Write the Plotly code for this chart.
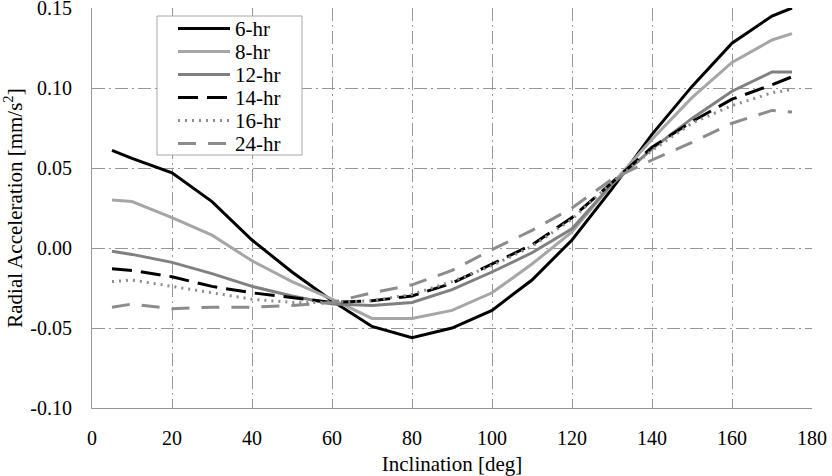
import plotly.graph_objects as go

inclination = [5, 10, 20, 30, 40, 50, 60, 70, 80, 90, 100, 110, 120, 130, 140, 150, 160, 170, 175]

acc_6hr = [0.061, 0.056, 0.047, 0.029, 0.005, -0.015, -0.033, -0.049, -0.056, -0.050, -0.039, -0.020, 0.005, 0.037, 0.071, 0.101, 0.128, 0.145, 0.150]
acc_8hr = [0.030, 0.029, 0.019, 0.008, -0.008, -0.021, -0.032, -0.044, -0.044, -0.039, -0.028, -0.010, 0.010, 0.040, 0.068, 0.094, 0.116, 0.130, 0.134]
acc_12hr = [-0.002, -0.004, -0.009, -0.016, -0.024, -0.030, -0.035, -0.036, -0.034, -0.026, -0.015, -0.003, 0.012, 0.040, 0.062, 0.081, 0.098, 0.110, 0.110]
acc_14hr = [-0.013, -0.014, -0.018, -0.024, -0.028, -0.031, -0.034, -0.033, -0.030, -0.022, -0.010, 0.002, 0.019, 0.041, 0.063, 0.079, 0.093, 0.102, 0.107]
acc_16hr = [-0.021, -0.020, -0.024, -0.028, -0.032, -0.034, -0.034, -0.033, -0.029, -0.021, -0.011, 0.001, 0.018, 0.041, 0.061, 0.078, 0.089, 0.097, 0.099]
acc_24hr = [-0.037, -0.035, -0.038, -0.037, -0.037, -0.036, -0.034, -0.028, -0.023, -0.014, -0.001, 0.011, 0.025, 0.043, 0.055, 0.066, 0.078, 0.086, 0.085]

series_names = ["6-hr", "8-hr", "12-hr", "14-hr", "16-hr", "24-hr"]
series_values = [acc_6hr, acc_8hr, acc_12hr, acc_14hr, acc_16hr, acc_24hr]
series_colors = ["#000000", "#a6a6a6", "#808080", "#000000", "#8c8c8c", "#8c8c8c"]
series_dash = ["solid", "solid", "solid", "20px,9px", "2px,5px", "18px,12px"]

x_ticks = [0, 20, 40, 60, 80, 100, 120, 140, 160, 180]
y_ticks = [-0.10, -0.05, 0.00, 0.05, 0.10, 0.15]
y_tick_labels = ["-0.10", "-0.05", "0.00", "0.05", "0.10", "0.15"]

FONT = "Liberation Serif"
GRID = "#969696"

W, H = 832, 476
ML, MR, MT, MB = 92, 20, 8, 68
PW, PH = W - ML - MR, H - MT - MB


def px_to_paper(px, py):
    return (px - ML) / PW, 1 - (py - MT) / PH


fig = go.Figure()
for name, vals, col, dash in zip(series_names, series_values, series_colors, series_dash):
    fig.add_trace(go.Scatter(
        x=inclination, y=vals, name=name, mode="lines",
        line=dict(color=col, width=3, dash=dash),
        showlegend=False,
    ))

axis_common = dict(
    showline=True, linecolor=GRID, linewidth=1,
    showgrid=True, gridcolor=GRID, gridwidth=1, griddash="13px,4px,2px,4px",
    zeroline=False, ticks="inside", ticklen=5, tickcolor=GRID,
    tickfont=dict(family=FONT, size=20, color="#000000"),
    ticklabeloverflow="allow", automargin=False,
)

fig.update_xaxes(
    range=[0, 180], tickvals=x_ticks, ticktext=[str(v) for v in x_ticks],
    ticklabelstandoff=12,
    title=dict(text="Inclination [deg]", font=dict(family=FONT, size=21, color="#000000"), standoff=8),
    **axis_common,
)
fig.update_yaxes(
    range=[-0.10, 0.150001], tickvals=y_ticks, ticktext=y_tick_labels,
    ticklabelstandoff=15,
    title=dict(text="Radial Acceleration [mm/s<sup>2</sup>]", font=dict(family=FONT, size=21, color="#000000"), standoff=6),
    **axis_common,
)

# legend box drawn as layout decoration (styled from the series lists)
shapes = []
annotations = []
bx0, by0 = px_to_paper(157, 16)
bx1, by1 = px_to_paper(302, 155)
shapes.append(dict(type="rect", xref="paper", yref="paper", x0=bx0, y0=by1, x1=bx1, y1=by0,
                   line=dict(color="#a6a6a6", width=1), fillcolor="white", layer="above"))
row0, row_gap = 28.5, 23.0
for i, (name, col, dash) in enumerate(zip(series_names, series_colors, series_dash)):
    ry = row0 + i * row_gap
    lx0, ly = px_to_paper(178, ry)
    lx1, _ = px_to_paper(230, ry)
    shapes.append(dict(type="line", xref="paper", yref="paper", x0=lx0, y0=ly, x1=lx1, y1=ly,
                       line=dict(color=col, width=3, dash=dash), layer="above"))
    tx, ty = px_to_paper(233, ry)
    annotations.append(dict(xref="paper", yref="paper", x=tx, y=ty, xanchor="left", yanchor="middle",
                            text=name, showarrow=False, font=dict(family=FONT, size=21, color="#000000")))

fig.update_layout(
    width=W, height=H,
    margin=dict(l=ML, r=MR, t=MT, b=MB, autoexpand=False),
    plot_bgcolor="white", paper_bgcolor="white",
    font=dict(family=FONT, size=20, color="#000000"),
    showlegend=False,
    shapes=shapes, annotations=annotations,
)

fig.write_html("out.html")
